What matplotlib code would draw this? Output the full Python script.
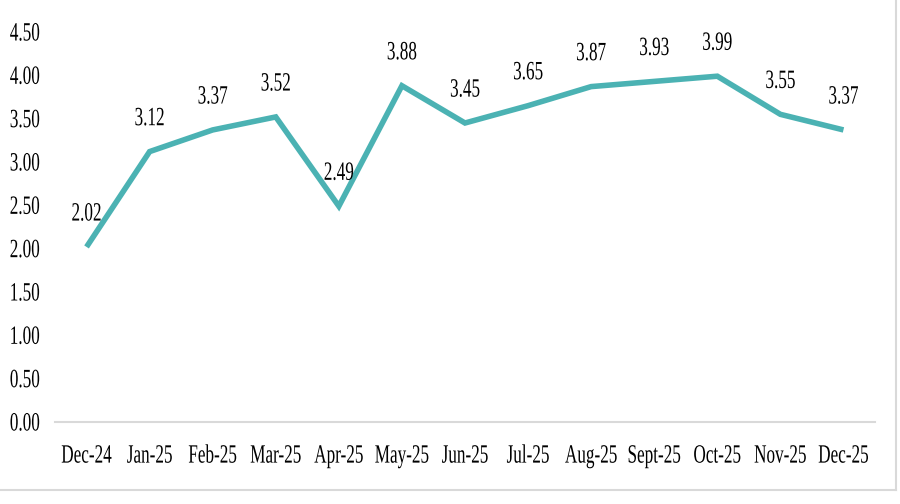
import matplotlib
matplotlib.use("Agg")
import matplotlib.pyplot as plt
from matplotlib.patheffects import AbstractPathEffect
from matplotlib.transforms import Affine2D
from matplotlib.lines import Line2D
from matplotlib.backends.backend_agg import RendererAgg

months = ["Dec-24", "Jan-25", "Feb-25", "Mar-25", "Apr-25", "May-25", "Jun-25",
          "Jul-25", "Aug-25", "Sept-25", "Oct-25", "Nov-25", "Dec-25"]
values = [2.02, 3.12, 3.37, 3.52, 2.49, 3.88, 3.45, 3.65, 3.87, 3.93, 3.99, 3.55, 3.37]
yticks = [0.0, 0.5, 1.0, 1.5, 2.0, 2.5, 3.0, 3.5, 4.0, 4.5]

LINE_COLOR = "#4bb2b3"
FONT = "Liberation Serif"
FS = 19
SX = 0.65  # horizontal condensing of the Times-like text

# report condensed widths for the condensed serif text so layout matches the drawing
_orig_metrics = RendererAgg.get_text_width_height_descent


def _condensed_metrics(self, s, prop, ismath):
    w, h, d = _orig_metrics(self, s, prop, ismath)
    if FONT in prop.get_family():
        w *= SX
    return w, h, d


RendererAgg.get_text_width_height_descent = _condensed_metrics


class Squeeze(AbstractPathEffect):
    """Condense glyphs horizontally about the text origin."""
    def __init__(self, sx=0.65):
        super().__init__()
        self.sx = sx

    def draw_path(self, renderer, gc, tpath, affine, rgbFace=None):
        t = Affine2D().scale(self.sx, 1) + affine
        renderer.draw_path(gc, tpath, t, rgbFace)


fig = plt.figure(figsize=(9, 5.04), dpi=100)
ax = fig.add_axes([55 / 900, 1 - 422 / 504, 820 / 900, 390 / 504])

x = list(range(len(months)))
ax.plot(x, values, color=LINE_COLOR, lw=4.0, solid_joinstyle="miter", solid_capstyle="butt")

for xi, v in zip(x, values):
    ax.annotate(f"{v:.2f}", (xi, v), xytext=(0, 19), textcoords="offset points",
                ha="center", va="baseline", fontsize=FS, family=FONT, color="black",
                path_effects=[Squeeze(SX)])

ax.set_xlim(-0.5, len(months) - 0.5)
ax.set_ylim(0, 4.5)
ax.set_yticks(yticks)
ax.set_yticklabels([f"{t:.2f}" for t in yticks])
ax.set_xticks(x)
ax.set_xticklabels(months)

for s in ["top", "right", "left"]:
    ax.spines[s].set_visible(False)
ax.spines["bottom"].set_color("#d9d9d9")
ax.spines["bottom"].set_linewidth(1.5)

ax.tick_params(axis="both", length=0)
ax.tick_params(axis="y", pad=11)
ax.tick_params(axis="x", pad=17)
for lab in ax.get_yticklabels() + ax.get_xticklabels():
    lab.set_fontfamily(FONT)
    lab.set_fontsize(FS)
    lab.set_path_effects([Squeeze(SX)])

# light border at the bottom and right of the image
fig.add_artist(Line2D([0, 896 / 900], [1 - 490 / 504, 1 - 490 / 504], transform=fig.transFigure,
                      color="#d9d9d9", lw=1.5))
fig.add_artist(Line2D([896 / 900, 896 / 900], [1 - 490 / 504, 1.0], transform=fig.transFigure,
                      color="#d9d9d9", lw=1.5))

fig.savefig("out.png", dpi=100)
